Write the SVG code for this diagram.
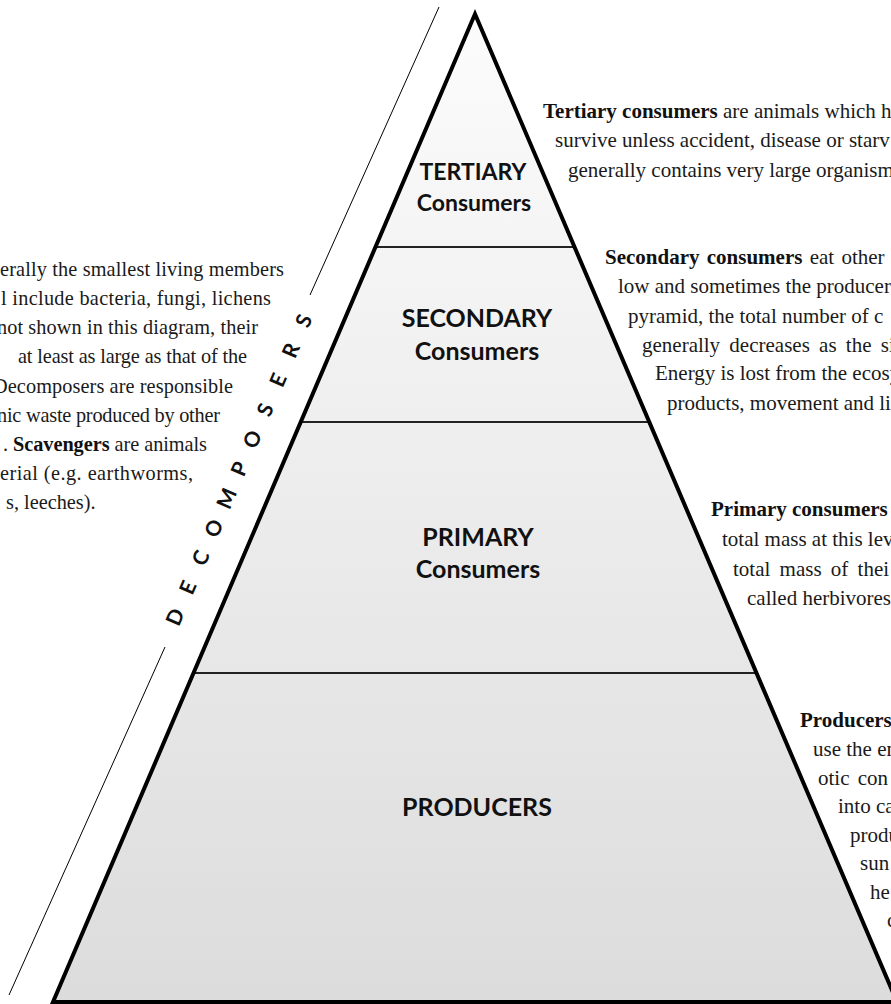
<svg xmlns="http://www.w3.org/2000/svg" width="891" height="1004" viewBox="0 0 891 1004">
<style>
.lbl{font-family:Lato,"Liberation Sans",sans-serif;font-weight:700;fill:#111;text-anchor:middle}
.body{font-family:"Liberation Serif","Times New Roman",serif;font-size:21px;fill:#1a1a1a}
.left{font-size:20.3px}
.b{font-weight:700;fill:#111}
.dec{font-family:Lato,"Liberation Sans",sans-serif;font-weight:700;font-size:21px;fill:#111;text-anchor:middle}
.div{stroke:#222;stroke-width:2;fill:none}
</style>
<defs>
<linearGradient id="fillg" gradientUnits="userSpaceOnUse" x1="0" y1="14" x2="0" y2="1002">
<stop offset="0" stop-color="#fcfcfc"/>
<stop offset="1" stop-color="#dcdcdc"/>
</linearGradient>
</defs>
<rect width="891" height="1004" fill="#ffffff"/>

<g id="producers">
<polygon points="193.2,673 756.8,673 897,1002 53,1002" fill="url(#fillg)"/>
<text class="lbl" x="477" y="816" font-size="25">PRODUCERS</text>
</g>
<g id="primary">
<polygon points="300.5,422 649.5,422 756.8,673 193.2,673" fill="url(#fillg)"/>
<text class="lbl" x="478" y="546" font-size="25">PRIMARY</text>
<text class="lbl" x="478" y="578" font-size="25">Consumers</text>
</g>
<g id="secondary">
<polygon points="375.4,247 574.6,247 649.5,422 300.5,422" fill="url(#fillg)"/>
<text class="lbl" x="477" y="327" font-size="25">SECONDARY</text>
<text class="lbl" x="477" y="360" font-size="25">Consumers</text>
</g>
<g id="tertiary">
<polygon points="475,14 574.6,247 375.4,247" fill="url(#fillg)"/>
<text class="lbl" x="473" y="180" font-size="23">TERTIARY</text>
<text class="lbl" x="474" y="211" font-size="23">Consumers</text>
</g>

<g id="outline">
<line class="div" x1="375.4" y1="247" x2="574.6" y2="247"/>
<line class="div" x1="300.5" y1="422" x2="649.5" y2="422"/>
<line class="div" x1="193.2" y1="673" x2="756.8" y2="673"/>
<polygon points="475,14 897,1002 53,1002" fill="none" stroke="#000" stroke-width="4" stroke-linejoin="miter" stroke-miterlimit="10"/>
</g>

<g id="decomposers">
<line x1="439" y1="7" x2="310" y2="295" stroke="#000" stroke-width="1"/>
<line x1="165" y1="647" x2="9" y2="995" stroke="#000" stroke-width="1"/>
<g transform="translate(175,617) rotate(-66.5)">
<text class="dec" x="0 32.3 64.6 96.9 129.2 161.5 193.8 226.1 258.4 290.7 323" y="7.5">DECOMPOSERS</text>
</g>
<text class="body left" x="0" y="276" textLength="284" lengthAdjust="spacing">erally the smallest living members</text>
<text class="body left" x="1" y="305" textLength="270" lengthAdjust="spacing">l include bacteria, fungi, lichens</text>
<text class="body left" x="-3" y="334" textLength="261" lengthAdjust="spacing">not shown in this diagram, their</text>
<text class="body left" x="18" y="363" textLength="229" lengthAdjust="spacing">at least as large as that of the</text>
<text class="body left" x="-7" y="393" textLength="240" lengthAdjust="spacing">Decomposers are responsible</text>
<text class="body left" x="-3" y="422" textLength="223" lengthAdjust="spacing">nic waste produced by other</text>
<text class="body left" x="3" y="451" textLength="204" lengthAdjust="spacing">. <tspan class="b">Scavengers</tspan> are animals</text>
<text class="body left" x="0" y="480" textLength="193" lengthAdjust="spacing">erial (e.g. earthworms,</text>
<text class="body left" x="6" y="509">s, leeches).</text>
</g>

<g id="tertiary-text">
<text class="body" x="543" y="118"><tspan class="b">Tertiary consumers</tspan> are animals which h</text>
<text class="body" x="555" y="147">survive unless accident, disease or starv</text>
<text class="body" x="568" y="177">generally contains very large organism</text>
</g>
<g id="secondary-text">
<text class="body" x="605" y="264" word-spacing="2"><tspan class="b">Secondary consumers</tspan> eat other</text>
<text class="body" x="618" y="293">low and sometimes the producer</text>
<text class="body" x="628" y="323">pyramid, the total number of c</text>
<text class="body" x="642" y="352" word-spacing="4">generally decreases as the si</text>
<text class="body" x="655" y="380">Energy is lost from the ecosy</text>
<text class="body" x="667" y="410">products, movement and li</text>
</g>
<g id="primary-text">
<text class="body" x="711" y="516"><tspan class="b">Primary consumers</tspan></text>
<text class="body" x="722" y="546">total mass at this lev</text>
<text class="body" x="733" y="576" word-spacing="4">total mass of thei</text>
<text class="body" x="747" y="605">called herbivores</text>
</g>
<g id="producers-text">
<text class="body" x="800" y="727"><tspan class="b">Producers</tspan></text>
<text class="body" x="813" y="756">use the en</text>
<text class="body" x="818" y="785" word-spacing="3">otic con</text>
<text class="body" x="838" y="813">into ca</text>
<text class="body" x="850" y="842">produ</text>
<text class="body" x="860" y="870">sun</text>
<text class="body" x="870" y="899">he</text>
<text class="body" x="887" y="927">c</text>
</g>
</svg>
